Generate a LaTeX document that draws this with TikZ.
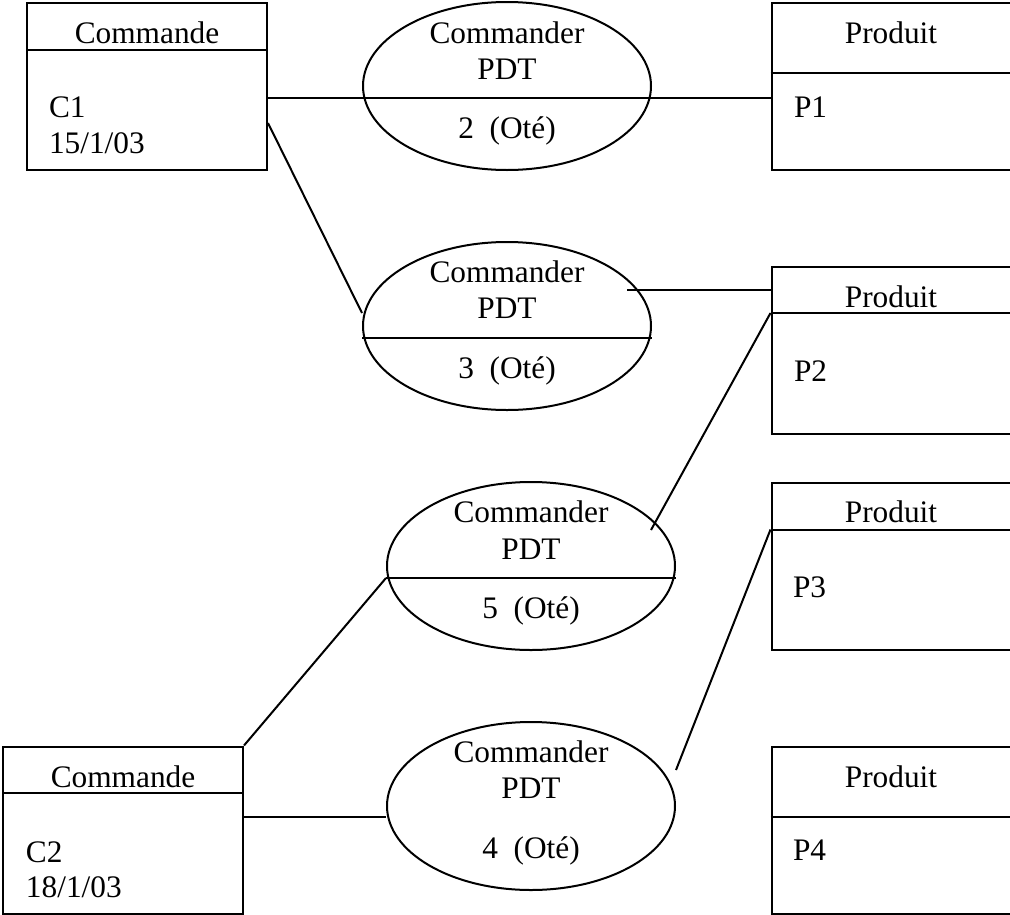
\documentclass[tikz,border=0pt]{standalone}
\usepackage{fontspec}
\setmainfont{Liberation Serif}
\usepackage{tikz}
\usetikzlibrary{positioning,calc,shapes.geometric}

\begin{document}
\begin{tikzpicture}[
    x=0.75pt, y=-0.75pt,
    line width=1.5pt,
    every node/.style={font=\fontsize{23.5}{27}\selectfont},
    entite/.style={draw, rectangle, minimum width=180pt, minimum height=125.25pt, inner sep=0pt},
    relation/.style={draw, ellipse, minimum width=216pt, minimum height=126pt, inner sep=0pt},
    titre/.style={anchor=base, inner sep=0pt},
    attr/.style={anchor=base west, inner sep=0pt}
]
\useasboundingbox (0,0) rectangle (1010,914);
\clip (0,0) rectangle (1010,914);

\node[entite] (c1) at (147,86) {};
\node[entite] (c2) at (123,830) {};
\node[entite] (p1) at (891.5,86.5) {};
\node[entite] (p2) at (891.5,350.5) {};
\node[entite] (p3) at (891.5,566) {};
\node[entite] (p4) at (891.5,830) {};

\draw ([yshift=-36pt]c1.north west) -- ([yshift=-36pt]c1.north east);
\draw ([yshift=-35.25pt]c2.north west) -- ([yshift=-35.25pt]c2.north east);
\draw ([yshift=-53.25pt]p1.north west) -- ([yshift=-53.25pt]p1.north east);
\draw ([yshift=-35.25pt]p2.north west) coordinate (p2d) -- ([yshift=-35.25pt]p2.north east);
\draw ([yshift=-36pt]p3.north west) coordinate (p3d) -- ([yshift=-36pt]p3.north east);
\draw ([yshift=-53.25pt]p4.north west) -- ([yshift=-53.25pt]p4.north east);

\node[titre] (c1t) at (147,43) {Commande};
\node[attr] (c1a) at (48,117) {C1};
\node[attr] (c1b) at (48,153) {15/1/03};
\node[titre] (c2t) at (123,787) {Commande};
\node[attr] (c2a) at (25,862) {C2};
\node[attr] (c2b) at (25,897) {18/1/03};
\node[titre] (p1t) at (891,43) {Produit};
\node[attr] (p1a) at (793,117) {P1};
\node[titre] (p2t) at (891,307) {Produit};
\node[attr] (p2a) at (793,381) {P2};
\node[titre] (p3t) at (891,522) {Produit};
\node[attr] (p3a) at (792,597) {P3};
\node[titre] (p4t) at (891,787) {Produit};
\node[attr] (p4a) at (792,860) {P4};

\node[relation] (r1) at (507,86) {};
\node[relation] (r2) at (507,326) {};
\node[relation] (r3) at (531,566) {};
\node[relation] (r4) at (531,806) {};

\draw ([yshift=-9pt]r2.west) -- ([yshift=-9pt]r2.east);
\draw ([yshift=-9pt]r3.west) coordinate (r3d) -- ([yshift=-9pt]r3.east);

\node[titre] (r1t) at (507,43) {Commander};
\node[titre] (r1n) at (507,79) {PDT};
\node[titre] (r1q) at (507,138) {2~~(Oté)};
\node[titre] (r2t) at (507,282) {Commander};
\node[titre] (r2n) at (507,318) {PDT};
\node[titre] (r2q) at (507,378) {3~~(Oté)};
\node[titre] (r3t) at (531,522) {Commander};
\node[titre] (r3n) at (531,559) {PDT};
\node[titre] (r3q) at (531,618) {5~~(Oté)};
\node[titre] (r4t) at (531,762) {Commander};
\node[titre] (r4n) at (531,798) {PDT};
\node[titre] (r4q) at (531,858) {4~~(Oté)};

\coordinate (c1e) at ([yshift=-9pt]c1.east);
\draw (c1e) -- (c1e -| p1.west);
\draw ([yshift=-27.75pt]c1.east) -- ([yshift=9.75pt]r2.west);
\coordinate (r2a) at ([shift={(90pt,27pt)}]r2.center);
\draw (r2a) -- (r2a -| p2.west);
\draw ([shift={(90pt,27pt)}]r3.center) -- (p2d);
\draw (r3d) -- (c2.north east);
\draw ([yshift=27pt]r4.east) -- (p3d);
\coordinate (c2e) at ([yshift=9.75pt]c2.east);
\draw (c2e) -- (c2e -| r4.west);
\end{tikzpicture}
\end{document}
